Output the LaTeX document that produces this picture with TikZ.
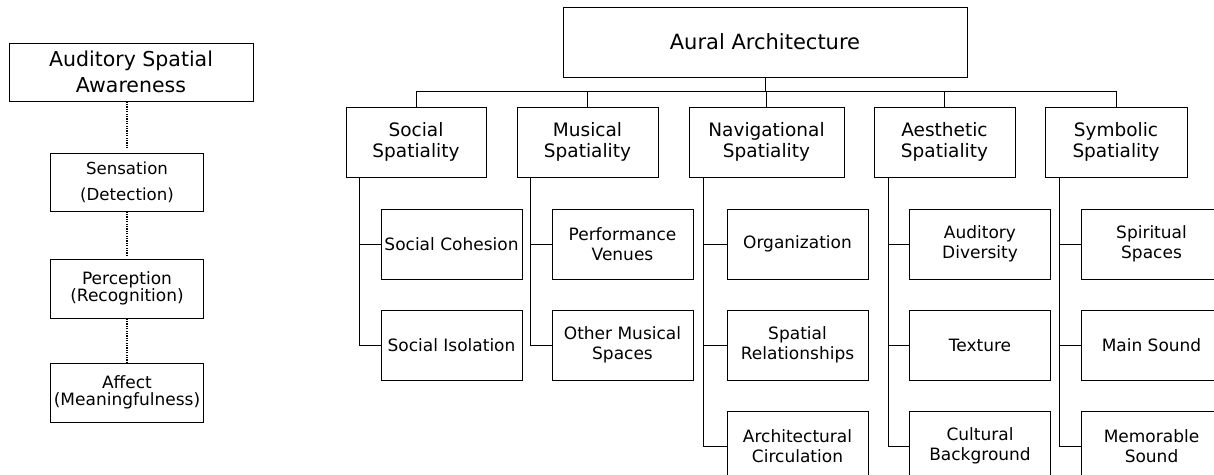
\documentclass[tikz,border=0pt]{standalone}
\usepackage{fontspec}
\setmainfont{DejaVu Sans}
\usetikzlibrary{positioning}

\begin{document}
\begin{tikzpicture}[
  x=1pt, y=-1pt,
  box/.style={draw, line width=1pt, align=center, inner sep=0pt},
  topbox/.style={box, minimum width=404pt, minimum height=70pt, font=\fontsize{21}{25}\selectfont},
  catbox/.style={box, minimum width=141pt, minimum height=70pt, font=\fontsize{18.5}{21}\selectfont},
  subbox/.style={box, minimum width=141pt, minimum height=70pt, font=\fontsize{17}{19.5}\selectfont},
  stagebox/.style={box, minimum width=153pt, minimum height=59pt, font=\fontsize{17}{17.5}\selectfont},
  link/.style={line width=1pt},
  dotline/.style={line width=1.2pt, dash pattern=on 1.2pt off 1.2pt},
]
  \useasboundingbox (0,0) rectangle (1214,474);

  % left column: levels of awareness
  \node[box, minimum width=244pt, minimum height=58pt, font=\fontsize{20.5}{25.7}\selectfont] (asa) at (131,72) {Auditory Spatial\\Awareness};
  \node[stagebox, minimum height=58pt, font=\fontsize{16.6}{26}\selectfont] (sens) at (127,182) {Sensation\\(Detection)};
  \node[stagebox, below=47pt of sens] (perc) {Perception\\(Recognition)};
  \node[stagebox, below=44pt of perc] (aff) {Affect\\(Meaningfulness)};
  \draw[dotline, shorten >=5pt] (sens.north |- asa.south) -- (sens.north);
  \draw[dotline, shorten >=2pt] (sens.south) -- (perc.north);
  \draw[dotline] (perc.south) -- (aff.north);

  % right: aural architecture tree
  \node[topbox] (aural) at (765,42) {Aural Architecture};
  \node[catbox, minimum width=140pt] (social) at (416,142) {Social\\Spatiality};
  \node[catbox, right=30pt of social] (musical) {Musical\\Spatiality};
  \node[catbox, minimum width=155pt, right=30pt of musical] (nav) {Navigational\\Spatiality};
  \node[catbox, right=29pt of nav] (aesth) {Aesthetic\\Spatiality};
  \node[catbox, minimum width=142pt, right=29pt of aesth] (symb) {Symbolic\\Spatiality};

  \draw[link] (aural.south) -- ++(0,14) coordinate (bus);
  \draw[link] (social.north) |- (bus) -| (symb.north);
  \draw[link] (musical.north) -- (musical.north |- bus);
  \draw[link] (nav.north) -- (nav.north |- bus);
  \draw[link] (aesth.north) -- (aesth.north |- bus);

  \node[subbox, anchor=north west] (cohesion) at ([xshift=35pt, yshift=-31pt]social.south west) {Social Cohesion};
  \node[subbox, below=30pt of cohesion] (isolation) {Social Isolation};

  \node[subbox, anchor=north west] (venues) at ([xshift=35pt, yshift=-31pt]musical.south west) {Performance\\Venues};
  \node[subbox, below=30pt of venues] (othermus) {Other Musical\\Spaces};

  \node[subbox, anchor=north west] (organization) at ([xshift=38pt, yshift=-31pt]nav.south west) {Organization};
  \node[subbox, below=30pt of organization] (relations) {Spatial\\Relationships};
  \node[subbox, below=30pt of relations] (circulation) {Architectural\\Circulation};

  \node[subbox, anchor=north west] (diversity) at ([xshift=35.5pt, yshift=-31pt]aesth.south west) {Auditory\\Diversity};
  \node[subbox, below=30pt of diversity] (texture) {Texture};
  \node[subbox, below=30pt of texture] (cultural) {Cultural\\Background};

  \node[subbox, anchor=north west] (spiritual) at ([xshift=36pt, yshift=-31pt]symb.south west) {Spiritual\\Spaces};
  \node[subbox, below=30pt of spiritual] (mainsound) {Main Sound};
  \node[subbox, below=30pt of mainsound] (memorable) {Memorable\\Sound};

  \draw[link] ([xshift=14pt]social.south west) |- (isolation.west);
  \draw[link] ([xshift=14pt]social.south west) |- (cohesion.west);
  \draw[link] ([xshift=14pt]musical.south west) |- (othermus.west);
  \draw[link] ([xshift=14pt]musical.south west) |- (venues.west);
  \draw[link] ([xshift=15pt]nav.south west) |- (circulation.west);
  \draw[link] ([xshift=15pt]nav.south west) |- (relations.west);
  \draw[link] ([xshift=15pt]nav.south west) |- (organization.west);
  \draw[link] ([xshift=15pt]aesth.south west) |- (cultural.west);
  \draw[link] ([xshift=15pt]aesth.south west) |- (texture.west);
  \draw[link] ([xshift=15pt]aesth.south west) |- (diversity.west);
  \draw[link] ([xshift=15pt]symb.south west) |- (memorable.west);
  \draw[link] ([xshift=15pt]symb.south west) |- (mainsound.west);
  \draw[link] ([xshift=15pt]symb.south west) |- (spiritual.west);
\end{tikzpicture}
\end{document}
